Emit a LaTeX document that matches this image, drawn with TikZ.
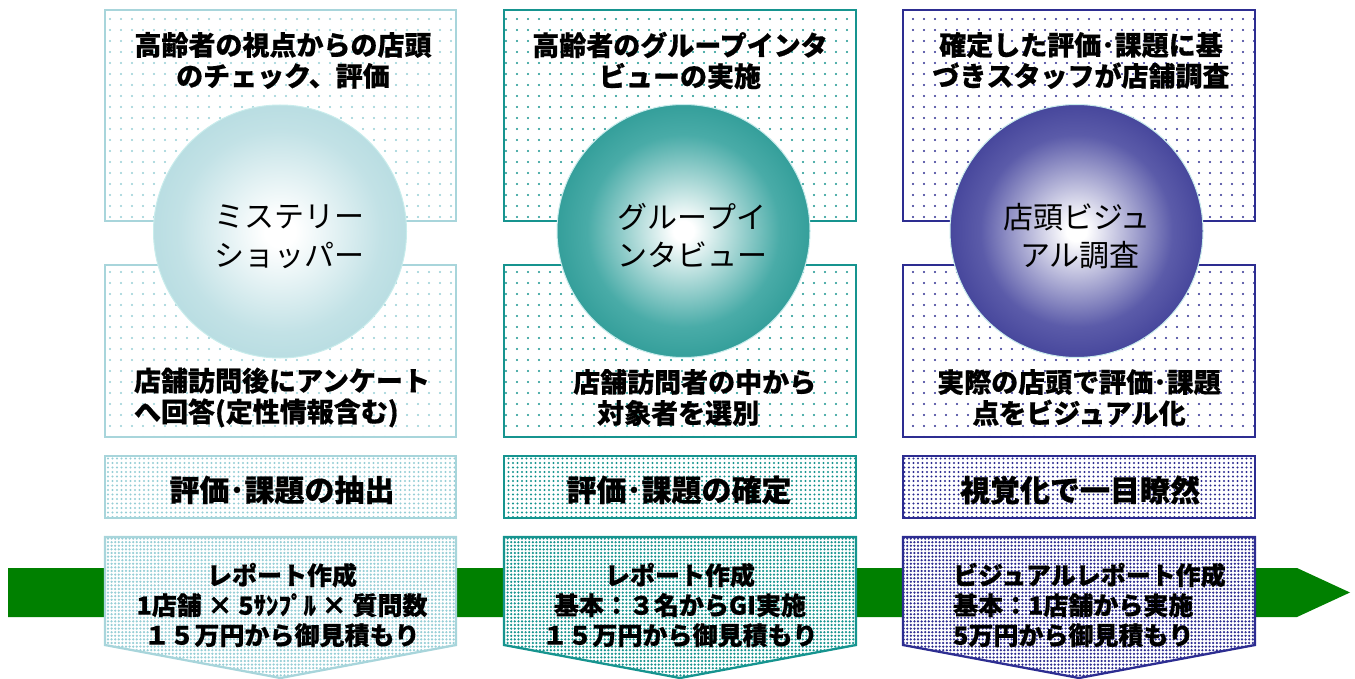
\documentclass[tikz,border=0pt]{standalone}
\usepackage{fontspec}
\newfontfamily\jp{Noto Sans CJK JP}[BoldFeatures={FakeBold=0.5}]
\usetikzlibrary{patterns.meta}
\definecolor{cA}{RGB}{168,213,219}
\definecolor{cAd}{RGB}{150,206,214}
\definecolor{cB}{RGB}{22,148,143}
\definecolor{cC}{RGB}{45,45,145}
\definecolor{cBo}{RGB}{18,138,133}
\definecolor{cCo}{RGB}{38,38,135}
\definecolor{cgreen}{RGB}{0,128,0}
\definecolor{rimc}{RGB}{200,236,236}
\colorlet{cAm}{cA!70!white}
\colorlet{cBm}{cB!78!white}
\colorlet{cCm}{cC!78!white}
\pgfdeclareradialshading{sphA}{\pgfpoint{0bp}{0bp}}{color(0bp)=(white); color(3bp)=(white); color(20bp)=(cAm); color(35bp)=(cA); color(50bp)=(cA)}
\pgfdeclareradialshading{sphB}{\pgfpoint{0bp}{0bp}}{color(0bp)=(white); color(2bp)=(white); color(19bp)=(cBm); color(35bp)=(cBo); color(50bp)=(cBo)}
\pgfdeclareradialshading{sphC}{\pgfpoint{0bp}{0bp}}{color(0bp)=(white); color(2bp)=(white); color(19bp)=(cCm); color(35bp)=(cCo); color(50bp)=(cCo)}
\begin{document}
\begin{tikzpicture}[x=1pt,y=-1pt,
  sparse/.style={fill=white, postaction={pattern={Dots[distance=11pt,radius=1.1pt]}, pattern color=#1}},
  densemid/.style={fill=white, postaction={pattern={Dots[distance=4.5pt,radius=1.1pt]}, pattern color=#1}},
  densepent/.style={fill=white, postaction={pattern={Dots[distance=3.6pt,radius=1.25pt]}, pattern color=#1}},
  frame/.style={draw=#1, line width=2.3pt},
  head/.style={font=\jp\bfseries\fontsize{27}{31}\selectfont, align=center, inner sep=0pt},
  midtxt/.style={font=\jp\bfseries\fontsize{30}{32}\selectfont, inner sep=0pt},
  penttxt/.style={font=\jp\bfseries\fontsize{25}{30}\selectfont, align=center, inner sep=0pt},
  ctxt/.style={font=\jp\fontsize{30}{38}\selectfont, inner sep=0pt},
  sphere/.style={circle, minimum size=253pt, inner sep=0pt, shade, shading=#1, draw=rimc, line width=1pt}]
\useasboundingbox (0,0) rectangle (1355,679);
% green timeline arrow
\fill[cgreen] (8,568) -- (1297,568) -- (1350,592.5) -- (1297,617) -- (8,617) -- cycle;
% column 1
\path[sparse=cAd] (105,10) rectangle (456,221);
\draw[frame=cA] (105,10) rectangle (456,221);
\path[sparse=cAd] (105,265) rectangle (456,437);
\draw[frame=cA] (105,265) rectangle (456,437);
\path[densemid=cAd] (105,456) rectangle (456,518);
\draw[frame=cA] (105,456) rectangle (456,518);
\path[densepent=cAd] (105,537) -- (456,537) -- (456,645) -- (280.5,678) -- (105,645) -- cycle;
\draw[frame=cA] (105,537) -- (456,537) -- (456,645) -- (280.5,678) -- (105,645) -- cycle;
% column 2
\path[sparse=cB] (504,10) rectangle (856,221);
\draw[frame=cB] (504,10) rectangle (856,221);
\path[sparse=cB] (504,265) rectangle (856,437);
\draw[frame=cB] (504,265) rectangle (856,437);
\path[densemid=cB] (504,456) rectangle (856,518);
\draw[frame=cB] (504,456) rectangle (856,518);
\path[densepent=cB] (504,537) -- (856,537) -- (856,645) -- (680,678) -- (504,645) -- cycle;
\draw[frame=cB] (504,537) -- (856,537) -- (856,645) -- (680,678) -- (504,645) -- cycle;
% column 3
\path[sparse=cC] (903,10) rectangle (1255,221);
\draw[frame=cC] (903,10) rectangle (1255,221);
\path[sparse=cC] (903,265) rectangle (1255,437);
\draw[frame=cC] (903,265) rectangle (1255,437);
\path[densemid=cC] (903,456) rectangle (1255,518);
\draw[frame=cC] (903,456) rectangle (1255,518);
\path[densepent=cC] (903,537) -- (1255,537) -- (1255,645) -- (1079,678) -- (903,645) -- cycle;
\draw[frame=cC] (903,537) -- (1255,537) -- (1255,645) -- (1079,678) -- (903,645) -- cycle;
% spheres
\node[sphere=sphA] (s1) at (280,231.5) {};
\node[sphere=sphB] (s2) at (683.5,231) {};
\node[sphere=sphC] (s3) at (1076.5,231) {};
\node[ctxt] (s1a) at (289,217) {ミステリー};
\node[ctxt] (s1b) at (289,255) {ショッパー};
\node[ctxt] (s2a) at (692,217) {グループイ};
\node[ctxt] (s2b) at (692,255) {ンタビュー};
\node[ctxt] (s3a) at (1077,217) {店頭ビジュ};
\node[ctxt] (s3b) at (1080,255) {アル調査};
% top texts
\node[head] (t1) at (283,60.5) {高齢者の視点からの店頭\\のチェック、評価};
\node[head] (t2) at (680,60.5) {高齢者のグループインタ\\ビューの実施};
\node[head] (t3) at (1081,60.5) {確定した評価･課題に基\\づきスタッフが店舗調査};
% lower texts
\node[head, align=left] (b1) at (282,397.5) {店舗訪問後にアンケート\\へ回答(定性情報含む)};
\node[head, align=left, anchor=west] (b2) at (573,397.5) {店舗訪問者の中から\\\hspace*{24pt}対象者を選別};
\node[head] (b3) at (1079,397.5) {実際の店頭で評価･課題\\点をビジュアル化};
% middle boxes
\node[midtxt] (m1) at (282,490) {評価･課題の抽出};
\node[midtxt] (m2) at (679,490) {評価･課題の確定};
\node[midtxt] (m3) at (1080,490) {視覚化で一目瞭然};
% pentagon texts
\node[penttxt] (p1) at (282,605) {レポート作成\\1店舗 × 5ｻﾝﾌﾟﾙ × 質問数\\１５万円から御見積もり};
\node[penttxt] (p2) at (680,605) {レポート作成\\基本：３名からGI実施\\１５万円から御見積もり};
\node[penttxt, align=left, anchor=west] (p3) at (953,605) {ビジュアルレポート作成\\基本：1店舗から実施\\5万円から御見積もり};
\end{tikzpicture}
\end{document}
